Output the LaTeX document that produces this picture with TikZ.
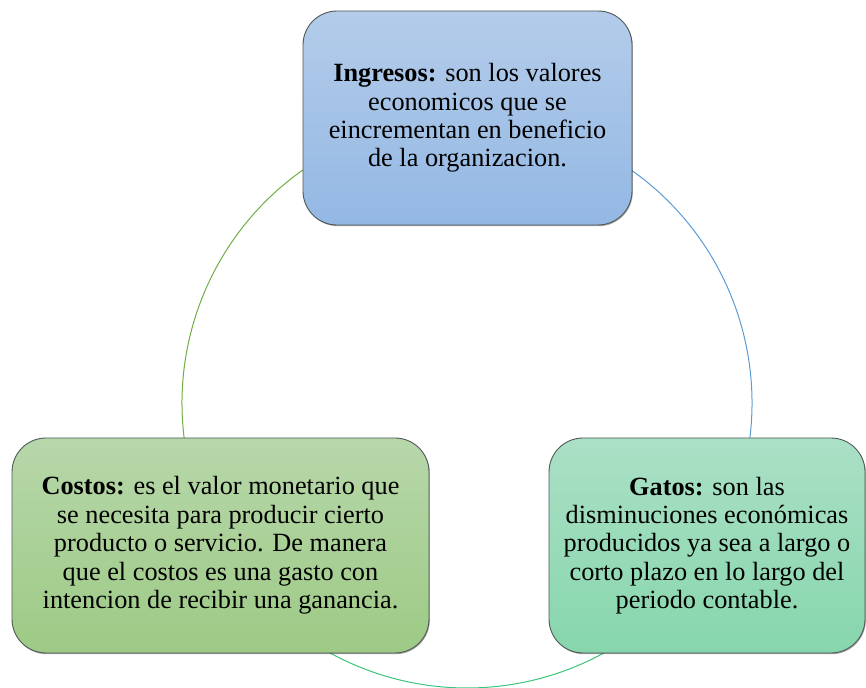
\documentclass[tikz,border=0pt]{standalone}
\usepackage{fontspec}
\setmainfont{Liberation Serif}
\usetikzlibrary{shadows}
\definecolor{topA}{RGB}{180,204,234}
\definecolor{topB}{RGB}{147,184,228}
\definecolor{leftA}{RGB}{183,215,170}
\definecolor{leftB}{RGB}{157,202,133}
\definecolor{rightA}{RGB}{171,224,198}
\definecolor{rightB}{RGB}{134,214,172}
\definecolor{arcG}{RGB}{112,173,71}
\definecolor{arcB}{RGB}{91,155,213}
\definecolor{arcT}{RGB}{60,196,124}
\definecolor{edge}{RGB}{80,88,88}
\tikzset{
  box/.style={draw=edge, line width=0.9pt, rounded corners=34pt, align=center,
    inner sep=0pt, font=\fontsize{26.3}{28.4}\selectfont,
    drop shadow={shadow xshift=0.8pt, shadow yshift=-1.2pt, opacity=0.35, fill=black}},
  ring/.style={line width=1pt}
}
\begin{document}
\begin{tikzpicture}[x=1pt,y=1pt]
\useasboundingbox (0,0) rectangle (866,687);
\coordinate (c) at (467,284);
\draw[ring, arcG] ([shift={(120:285)}]c) arc[start angle=120, end angle=195, radius=285];
\draw[ring, arcB] ([shift={(60:285)}]c) arc[start angle=60, end angle=-15, radius=285];
\draw[ring, arcT] ([shift={(-55:285)}]c) arc[start angle=-55, end angle=-125, radius=285];
\node[box, top color=topA, bottom color=topB, minimum width=329pt, minimum height=214pt]
  (ing) at (467.5,569) {\textbf{Ingresos:} son los valores\\economicos que se\\eincrementan en beneficio\\de la organizacion.};
\node[box, top color=leftA, bottom color=leftB, minimum width=417pt, minimum height=215pt]
  (cos) at (220.5,141.5) {\textbf{Costos:} es el valor monetario que\\se necesita para producir cierto\\producto o servicio. De manera\\que el costos es una gasto con\\intencion de recibir una ganancia.};
\node[box, top color=rightA, bottom color=rightB, minimum width=316pt, minimum height=215pt]
  (gas) at (707,141.5) {\textbf{Gatos:} son las\\disminuciones económicas\\producidos ya sea a largo o\\corto plazo en lo largo del\\periodo contable.};
\end{tikzpicture}
\end{document}
